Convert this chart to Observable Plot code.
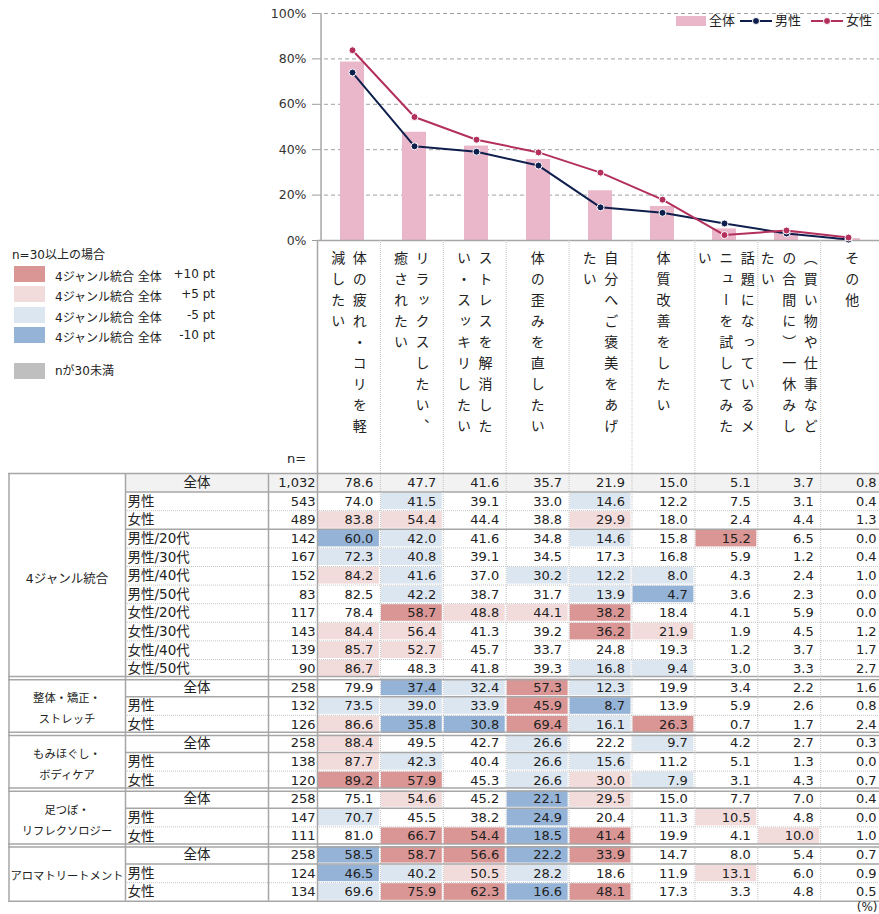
<!DOCTYPE html>
<html><head><meta charset="utf-8">
<script src="https://cdn.jsdelivr.net/npm/d3@7"></script>
<script src="https://cdn.jsdelivr.net/npm/@observablehq/plot@0.6"></script>
<style>
body{margin:0;background:#fff;}
#root{position:relative;width:879px;height:914px;overflow:hidden;font-family:"DejaVu Sans","Noto Sans CJK JP",sans-serif;color:#222;}
#chart,#table{position:absolute;left:0;}
#chart{top:0}
#table{top:240px}
.leg{position:absolute;font-size:12px;white-space:nowrap;line-height:14px;color:#222;}
.sw{position:absolute;}
#chart [aria-label="y-axis tick"] path{stroke:#999;}
</style></head><body><div id="root">
<div id="chart"></div>
<div id="table"></div>
<div id="legTop"></div>
<div id="legLeft"></div>
</div>
<script>
// ---------- DATA ----------
const categories = ["体の疲れ・コリを軽減したい","リラックスしたい、癒されたい","ストレスを解消したい・スッキリしたい","体の歪みを直したい","自分へご褒美をあげたい","体質改善をしたい","話題になっているメニューを試してみたい","（買い物や仕事などの合間に）一休みしたい","その他"];
const categoryLabelLines = [
  ["体の疲れ・コリを軽","減したい"],
  ["リラックスしたい、","癒されたい"],
  ["ストレスを解消した","い・スッキリしたい"],
  ["体の歪みを直したい"],
  ["自分へご褒美をあげ","たい"],
  ["体質改善をしたい"],
  ["話題になっているメ","ニューを試してみた","い"],
  ["（買い物や仕事など","の合間に）一休みし","たい"],
  ["その他"]
];
const seriesNames = ["全体","男性","女性"];
const groupLabelLines = [["4ジャンル統合"],["整体・矯正・","ストレッチ"],["もみほぐし・","ボディケア"],["足つぼ・","リフレクソロジー"],["アロマトリートメント"]];
const rowLabels = ["全体","男性","女性","男性/20代","男性/30代","男性/40代","男性/50代","女性/20代","女性/30代","女性/40代","女性/50代","全体","男性","女性","全体","男性","女性","全体","男性","女性","全体","男性","女性"];
const rowGroup = [0,0,0,0,0,0,0,0,0,0,0,1,1,1,2,2,2,3,3,3,4,4,4];
const rowN = [1032,543,489,142,167,152,83,117,143,139,90,258,132,126,258,138,120,258,147,111,258,124,134];
const values = [
[78.6,47.7,41.6,35.7,21.9,15.0,5.1,3.7,0.8],
[74.0,41.5,39.1,33.0,14.6,12.2,7.5,3.1,0.4],
[83.8,54.4,44.4,38.8,29.9,18.0,2.4,4.4,1.3],
[60.0,42.0,41.6,34.8,14.6,15.8,15.2,6.5,0.0],
[72.3,40.8,39.1,34.5,17.3,16.8,5.9,1.2,0.4],
[84.2,41.6,37.0,30.2,12.2,8.0,4.3,2.4,1.0],
[82.5,42.2,38.7,31.7,13.9,4.7,3.6,2.3,0.0],
[78.4,58.7,48.8,44.1,38.2,18.4,4.1,5.9,0.0],
[84.4,56.4,41.3,39.2,36.2,21.9,1.9,4.5,1.2],
[85.7,52.7,45.7,33.7,24.8,19.3,1.2,3.7,1.7],
[86.7,48.3,41.8,39.3,16.8,9.4,3.0,3.3,2.7],
[79.9,37.4,32.4,57.3,12.3,19.9,3.4,2.2,1.6],
[73.5,39.0,33.9,45.9,8.7,13.9,5.9,2.6,0.8],
[86.6,35.8,30.8,69.4,16.1,26.3,0.7,1.7,2.4],
[88.4,49.5,42.7,26.6,22.2,9.7,4.2,2.7,0.3],
[87.7,42.3,40.4,26.6,15.6,11.2,5.1,1.3,0.0],
[89.2,57.9,45.3,26.6,30.0,7.9,3.1,4.3,0.7],
[75.1,54.6,45.2,22.1,29.5,15.0,7.7,7.0,0.4],
[70.7,45.5,38.2,24.9,20.4,11.3,10.5,4.8,0.0],
[81.0,66.7,54.4,18.5,41.4,19.9,4.1,10.0,1.0],
[58.5,58.7,56.6,22.2,33.9,14.7,8.0,5.4,0.7],
[46.5,40.2,50.5,28.2,18.6,11.9,13.1,6.0,0.9],
[69.6,75.9,62.3,16.6,48.1,17.3,3.3,4.8,0.5]
];
const yTicks = [0,20,40,60,80,100];
const legendSteps = ["+10 pt","+5 pt","-5 pt","-10 pt"];
const thresholds = [-10,-5,5,10];

// ---------- STYLE / LAYOUT ----------
const W = 879;
const C = {bar:"#eab6c9", male:"#0f1f4d", female:"#b3305d", solid:"#a6a6a6", dot:"#c4c4c4",
  heat:["#95b3d7","#dce6f1","#ffffff","#f2dcdb","#da9694"], nsmall:"#bfbfbf", head:"#f2f2f2"};
const L = {left:8, grpR:125, labR:268, nR:317, colStep:62.9, tableTop:473, rowH:18.6, lowerTop:240, lowerBottom:914};
const cx = px => (px - L.nR) / L.colStep;
const ry = py => (py - L.tableTop) / L.rowH;

// ---------- TOP CHART ----------
const long = [];
values.slice(0,3).forEach((row, s) => row.forEach((v, c) => long.push({series: seriesNames[s], cat: categories[c], v})));
const bars = long.filter(d => d.series === "全体");
const male = long.filter(d => d.series === "男性");
const female = long.filter(d => d.series === "女性");

const chart = Plot.plot({
  width: W, height: 252, marginTop: 13, marginBottom: 12, marginLeft: L.nR, marginRight: 0,
  style: {fontFamily: '"DejaVu Sans","Noto Sans CJK JP",sans-serif', fontSize: "12.5px", color: "#333", background: "transparent"},
  x: {domain: categories, range: [L.nR, L.nR + 9 * L.colStep], paddingInner: 0.62, paddingOuter: 0.31, axis: null},
  y: {domain: [0, 100], ticks: yTicks, tickFormat: d => d + "%", tickSize: 5, tickPadding: 6, label: null},
  marks: [
    Plot.ruleY(yTicks.filter(d => d > 0), {stroke: "#a0a0a0", strokeDasharray: "4,3"}),
    Plot.barY(bars, {x: "cat", y: "v", fill: C.bar}),
    Plot.ruleY([0], {stroke: C.solid, strokeWidth: 1.5}),
    Plot.ruleX([categories[0]], {dx: -L.colStep / 2, stroke: C.solid, strokeWidth: 1.5}),
    Plot.line(male, {x: "cat", y: "v", stroke: C.male, strokeWidth: 2}),
    Plot.dot(male, {x: "cat", y: "v", fill: C.male, stroke: "white", strokeWidth: 1, r: 3.5}),
    Plot.line(female, {x: "cat", y: "v", stroke: C.female, strokeWidth: 2}),
    Plot.dot(female, {x: "cat", y: "v", fill: C.female, stroke: "white", strokeWidth: 1, r: 3.5})
  ]
});
document.getElementById("chart").append(chart);

// ---------- LOWER: labels + table ----------
const labelItems = [];
categoryLabelLines.forEach((lines, c) => lines.forEach((t, k) => {
  labelItems.push({c, t, off: ((lines.length - 1) / 2 - k) * 21.5});
}));
const rows = rowLabels.map((label, i) => ({i, label, group: rowGroup[i], n: rowN[i]}));
const base = values[0];
const cells = [];
values.forEach((row, r) => row.forEach((v, c) => cells.push({r, c, v, diff: Math.round((v - base[c]) * 10) / 10})));
const groupsInfo = groupLabelLines.map((lines, g) => {
  const rs = rows.filter(d => d.group === g);
  return {g, text: lines.join("\n"), mid: (rs[0].i + rs[rs.length - 1].i + 1) / 2, len: lines.join("").length};
});
// horizontal lines
const hSolid = [], hDot = [], hDouble = [];
rows.forEach(d => {
  const b = d.i + 1;
  if (b >= rows.length) return;
  if (rowGroup[b] !== d.group) hDouble.push(b);
  else if (d.label === "全体" || d.label === "女性") hSolid.push(b);
  else hDot.push(b);
});
const dd = 1.6 / L.rowH;
const hFull = [0, rows.length, ...hDouble.map(b => b - dd), ...hDouble.map(b => b + dd)];
const vTable = [cx(L.left + 0.5), cx(L.grpR), cx(L.labR)];
const vDots = d3.range(1, 9);

const lower = Plot.plot({
  width: W, height: L.lowerBottom - L.lowerTop, margin: 0,
  style: {fontFamily: '"DejaVu Sans","Noto Sans CJK JP",sans-serif', fontSize: "13px", color: "#222", background: "transparent"},
  x: {type: "linear", domain: [cx(0), cx(W)], range: [0, W], axis: null},
  y: {type: "linear", domain: [ry(L.lowerTop), ry(L.lowerBottom)], range: [0, L.lowerBottom - L.lowerTop], axis: null},
  color: {type: "threshold", domain: thresholds, range: C.heat},
  marks: [
    // header row background (base row)
    Plot.rect(rows.filter(d => d.i === 0), {x1: () => cx(L.grpR), x2: () => 9.2, y1: "i", y2: d => d.i + 1, fill: C.head}),
    // heat cells
    Plot.rect(cells.filter(d => d.r > 0), {x1: "c", x2: d => d.c + 1, y1: "r", y2: d => d.r + 1, fill: "diff", inset: 1}),
    // lines
    Plot.ruleY(hDot, {x1: () => cx(L.grpR), x2: () => 9.2, stroke: C.dot, strokeDasharray: "1,1"}),
    Plot.ruleY(hSolid, {x1: () => cx(L.grpR), x2: () => 9.2, stroke: C.solid, strokeWidth: 1.5}),
    Plot.ruleY(hFull, {x1: () => cx(L.left), x2: () => 9.2, stroke: C.solid, strokeWidth: 1.5}),
    Plot.ruleX(vDots, {y1: () => ry(L.lowerTop), y2: () => rows.length, stroke: C.dot, strokeDasharray: "1,1"}),
    Plot.ruleX([0], {y1: () => ry(L.lowerTop), y2: () => rows.length, stroke: C.solid, strokeWidth: 1.5}),
    Plot.ruleX(vTable, {y1: () => 0, y2: () => rows.length, stroke: C.solid, strokeWidth: 1.5}),
    // category labels (vertical)
    Plot.text(labelItems, {x: d => d.c + 0.5 + d.off / L.colStep, y: () => ry(250), text: "t", textAnchor: "start", lineAnchor: "bottom", fontSize: 14, fill: "#222"}),
    Plot.text(["n="], {x: () => cx(296), y: () => ry(458), text: d => d, fontSize: 13}),
    // values
    Plot.text(cells, {x: d => d.c + 1, y: d => d.r + 0.5, text: d => d.v.toFixed(1), textAnchor: "end", dx: -7}),
    Plot.text(rows, {x: () => 0, y: d => d.i + 0.5, text: d => d3.format(",")(d.n), textAnchor: "end", dx: -2}),
    Plot.text(rows.filter(d => d.label !== "全体"), {x: () => cx(L.grpR + 2), y: d => d.i + 0.5, text: "label", textAnchor: "start", fontSize: 13.5}),
    Plot.text(rows.filter(d => d.label === "全体"), {x: () => cx((L.grpR + L.labR) / 2), y: d => d.i + 0.5, text: "label", fontSize: 13.5}),
    Plot.text(groupsInfo, {x: () => cx((L.left + L.grpR) / 2), y: "mid", text: "text", lineHeight: 1.85, fontSize: d => d.len > 8 ? 11.3 : 12.5}),
    Plot.text(["(%)"], {x: () => cx(877), y: () => ry(907), text: d => d, textAnchor: "end", fontSize: 12})
  ]
});
const vset = new Set(categoryLabelLines.flat());
lower.querySelectorAll("text").forEach(t => {
  if (vset.has(t.textContent)) {
    t.style.writingMode = "vertical-rl";
    t.style.letterSpacing = "7px";
    t.style.fontFamily = '"Noto Sans CJK JP",sans-serif';
  }
});
document.getElementById("table").append(lower);

// ---------- LEGENDS (HTML) ----------
const legTop = document.getElementById("legTop");
legTop.innerHTML = `
<div class="sw" style="left:676px;top:16px;width:30px;height:10px;background:${C.bar}"></div>
<div class="leg" style="left:709px;top:14px;font-size:13px">${seriesNames[0]}</div>
<svg class="sw" style="left:740px;top:15px" width="34" height="12"><line x1="0" y1="6" x2="32" y2="6" stroke="${C.male}" stroke-width="2"/><circle cx="16" cy="6" r="3.5" fill="${C.male}" stroke="white"/></svg>
<div class="leg" style="left:775px;top:14px;font-size:13px">${seriesNames[1]}</div>
<svg class="sw" style="left:811px;top:15px" width="34" height="12"><line x1="0" y1="6" x2="32" y2="6" stroke="${C.female}" stroke-width="2"/><circle cx="16" cy="6" r="3.5" fill="${C.female}" stroke="white"/></svg>
<div class="leg" style="left:846px;top:14px;font-size:13px">${seriesNames[2]}</div>`;

const legLeft = document.getElementById("legLeft");
const heatOrder = [4, 3, 1, 0];
const swTops = [266, 286, 307, 327];
let html = `<div class="leg" style="left:12px;top:248px">n=30以上の場合</div>`;
legendSteps.forEach((s, k) => {
  html += `<div class="sw" style="left:14px;top:${swTops[k]}px;width:31px;height:16px;background:${C.heat[heatOrder[k]]}"></div>`;
  html += `<div class="leg" style="left:55px;top:${swTops[k] + 4}px">4ジャンル統合 全体</div>`;
  html += `<div class="leg" style="left:160px;width:55px;text-align:right;top:${swTops[k] + 1}px">${s}</div>`;
});
html += `<div class="sw" style="left:14px;top:363px;width:31px;height:16px;background:${C.nsmall}"></div>`;
html += `<div class="leg" style="left:55px;top:364px">nが30未満</div>`;
legLeft.innerHTML = html;
</script></body></html>
